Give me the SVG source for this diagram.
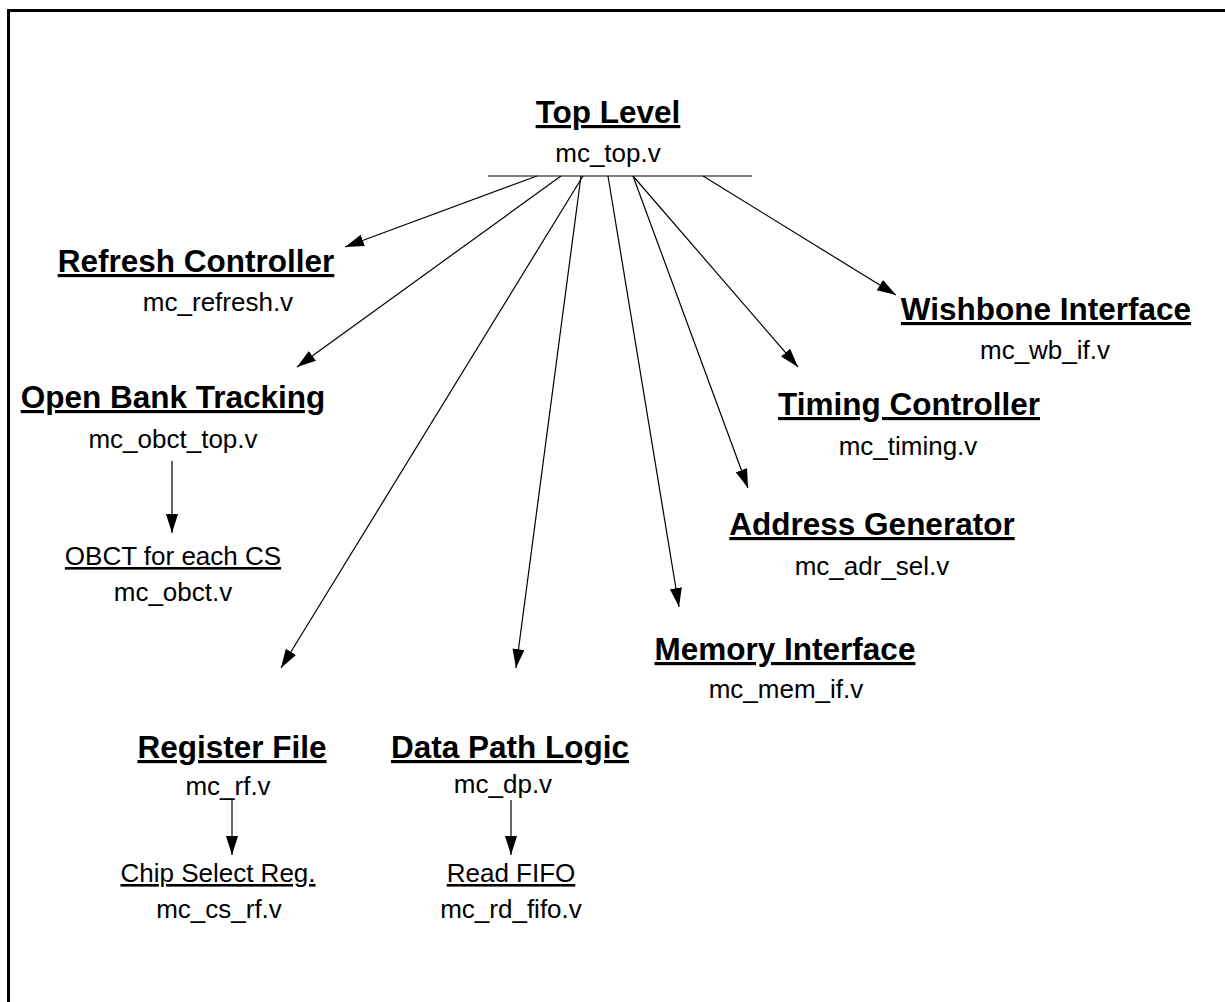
<svg xmlns="http://www.w3.org/2000/svg" width="1225" height="1002" viewBox="0 0 1225 1002">
<style>
.h{font-family:"Liberation Sans",Arial,sans-serif;font-weight:bold;font-size:31.5px;text-anchor:middle;text-decoration:underline;fill:#000}
.f{font-family:"Liberation Sans",Arial,sans-serif;font-size:26px;text-anchor:middle;fill:#000}
.s{font-family:"Liberation Sans",Arial,sans-serif;font-size:26px;text-anchor:middle;text-decoration:underline;fill:#000}
.c{stroke:#000;stroke-width:1.2;fill:none}
</style>
<defs>
<marker id="ah" markerUnits="userSpaceOnUse" markerWidth="20" markerHeight="13" refX="19" refY="6" orient="auto">
<path d="M0,0L19,6L0,12z" fill="#000"/>
</marker>
</defs>
<rect x="0" y="0" width="1225" height="1002" fill="#fff"/>
<rect id="frame" x="8.5" y="10.5" width="1240" height="1010" fill="none" stroke="#000" stroke-width="3"/>

<g id="connectors">
<line class="c" x1="488" y1="176" x2="752" y2="176"/>
<line class="c" x1="537" y1="176" x2="345" y2="247" marker-end="url(#ah)"/>
<line class="c" x1="561" y1="176" x2="297" y2="367" marker-end="url(#ah)"/>
<line class="c" x1="583" y1="176" x2="281" y2="668" marker-end="url(#ah)"/>
<line class="c" x1="581" y1="176" x2="516" y2="668" marker-end="url(#ah)"/>
<line class="c" x1="608" y1="176" x2="679" y2="607" marker-end="url(#ah)"/>
<line class="c" x1="633" y1="176" x2="748" y2="488" marker-end="url(#ah)"/>
<line class="c" x1="633" y1="176" x2="798" y2="367" marker-end="url(#ah)"/>
<line class="c" x1="703" y1="176" x2="896" y2="295" marker-end="url(#ah)"/>
<line class="c" x1="172" y1="461" x2="172" y2="533" marker-end="url(#ah)"/>
<line class="c" x1="232" y1="800" x2="232" y2="855" marker-end="url(#ah)"/>
<line class="c" x1="511" y1="800" x2="511" y2="855" marker-end="url(#ah)"/>
</g>

<g id="top">
<text class="h" x="608" y="123">Top Level</text>
<text class="f" x="608" y="162">mc_top.v</text>
</g>
<g id="refresh">
<text class="h" x="196" y="272">Refresh Controller</text>
<text class="f" x="218" y="311">mc_refresh.v</text>
</g>
<g id="obct_top">
<text class="h" x="173" y="408">Open Bank Tracking</text>
<text class="f" x="173" y="448">mc_obct_top.v</text>
</g>
<g id="obct">
<text class="s" x="173" y="565">OBCT for each CS</text>
<text class="f" x="173" y="601">mc_obct.v</text>
</g>
<g id="wishbone">
<text class="h" x="1046" y="320">Wishbone Interface</text>
<text class="f" x="1045" y="359">mc_wb_if.v</text>
</g>
<g id="timing">
<text class="h" x="909" y="415">Timing Controller</text>
<text class="f" x="908" y="455">mc_timing.v</text>
</g>
<g id="address">
<text class="h" x="872" y="535">Address Generator</text>
<text class="f" x="872" y="575">mc_adr_sel.v</text>
</g>
<g id="memory">
<text class="h" x="785" y="660">Memory Interface</text>
<text class="f" x="786" y="698">mc_mem_if.v</text>
</g>
<g id="regfile">
<text class="h" x="232" y="758">Register File</text>
<text class="f" x="228" y="795">mc_rf.v</text>
</g>
<g id="cs_rf">
<text class="s" x="218" y="882">Chip Select Reg.</text>
<text class="f" x="219" y="918">mc_cs_rf.v</text>
</g>
<g id="datapath">
<text class="h" x="510" y="758">Data Path Logic</text>
<text class="f" x="503" y="793">mc_dp.v</text>
</g>
<g id="rd_fifo">
<text class="s" x="511" y="882">Read FIFO</text>
<text class="f" x="511" y="918">mc_rd_fifo.v</text>
</g>
</svg>
